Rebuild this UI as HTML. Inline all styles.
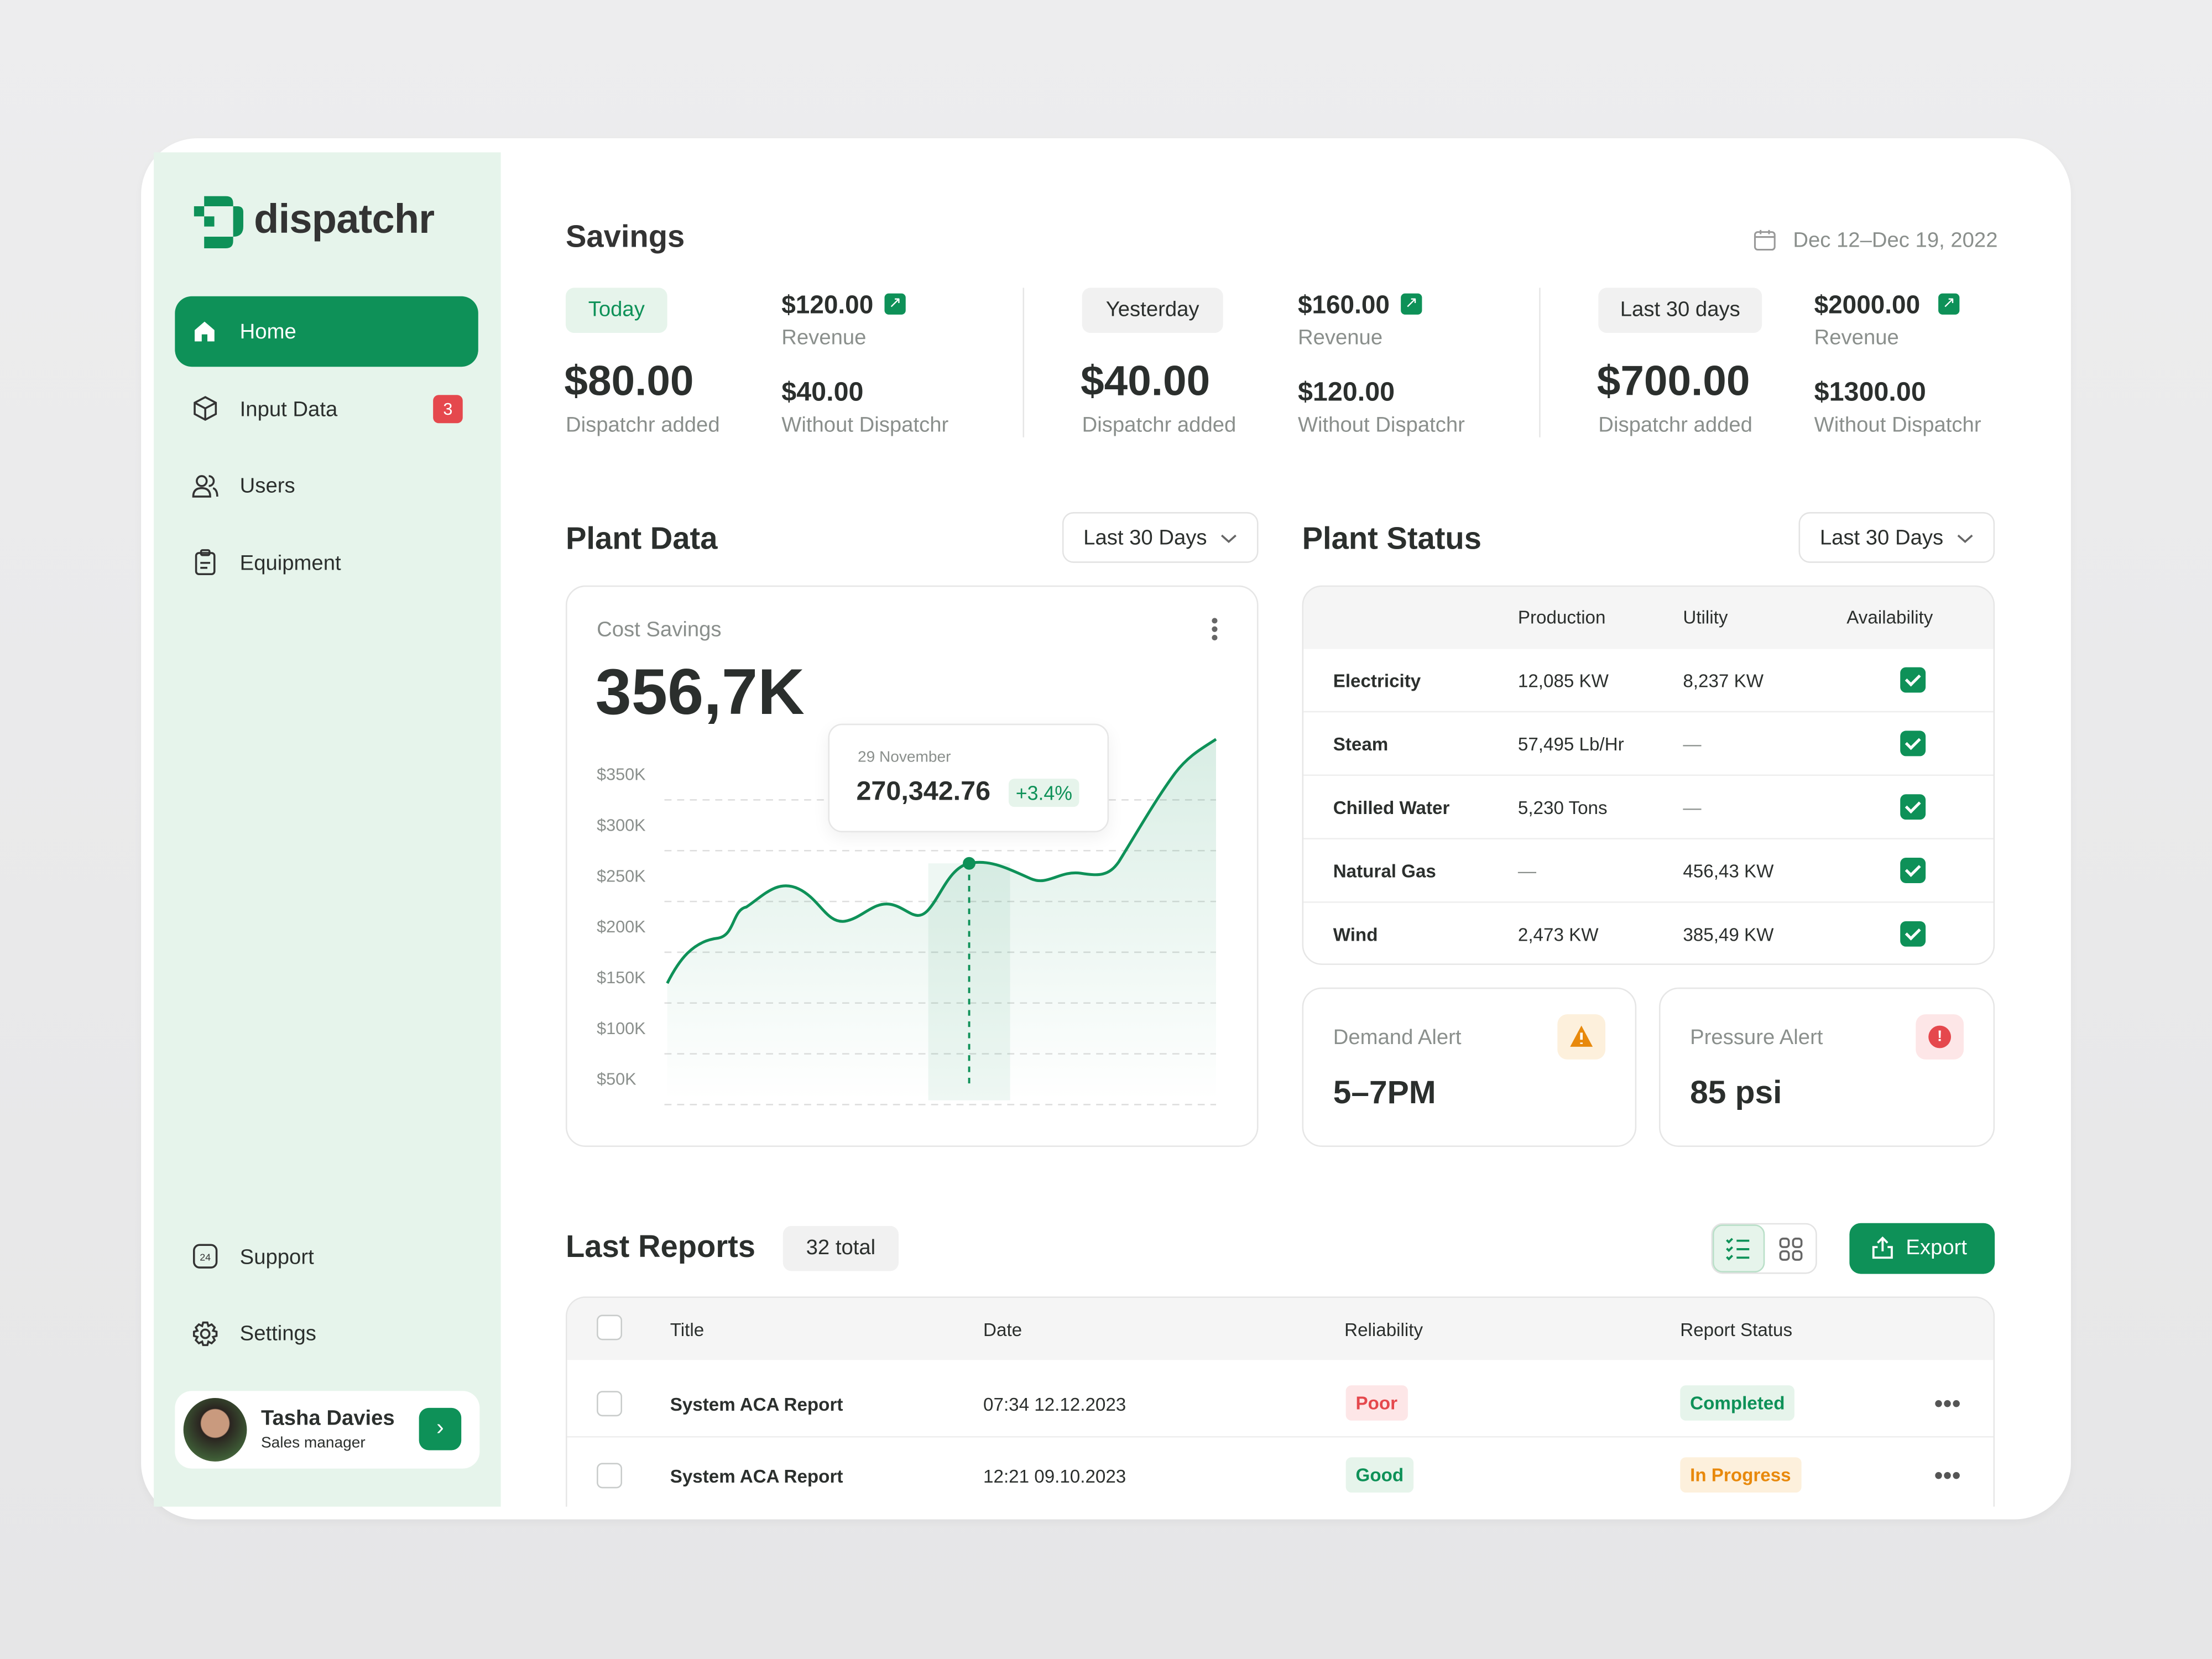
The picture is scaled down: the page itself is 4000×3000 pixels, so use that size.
<!DOCTYPE html>
<html><head><meta charset="utf-8"><style>
*{margin:0;padding:0;box-sizing:border-box}
html,body{width:4000px;height:3000px;overflow:hidden;background:#e9e9ea}
#w{position:absolute;left:0;top:0;width:1568px;height:1176px;transform:scale(2.55102);transform-origin:0 0;font-family:"Liberation Sans",sans-serif;color:#2b2f2d;background:linear-gradient(#ededee,#e6e6e7)}
.a{position:absolute;white-space:nowrap}
.g{color:#8a8f8c}
.card{position:absolute;left:100px;top:98px;width:1368px;height:979px;background:#fff;border-radius:40px;box-shadow:0 2px 6px rgba(0,0,0,.04)}
.side{position:absolute;left:109px;top:108px;width:246px;height:960px;background:#e6f4eb}
.nav{font-size:15px;color:#2b2f2d}
.pill{position:absolute;border-radius:6px;font-size:15px;text-align:center}
.box{position:absolute;border:1px solid #e6e6e6;border-radius:14px;background:#fff}
.sm{font-size:13px}
.chk{position:absolute;width:18px;height:18px;border-radius:4px;background:#0e9158}
.chk:after{content:"";position:absolute;left:6px;top:3px;width:4px;height:8px;border:solid #fff;border-width:0 2px 2px 0;transform:rotate(45deg)}
.cb{position:absolute;width:18px;height:18px;border:1.5px solid #c9cccb;border-radius:4px;background:#fff}
.dd{position:absolute;height:36px;border:1px solid #e3e3e3;border-radius:8px;font-size:15px;padding:9px 14px;white-space:nowrap}
.dd svg{position:absolute;right:14px;top:14px}
.tag{position:absolute;font-size:13px;font-weight:bold;padding:5px 7px;border-radius:4px}
</style></head><body><div id="w">
<div class="card"></div>
<div class="side"></div>
<svg class="a" style="left:137px;top:139px" width="36" height="37" viewBox="0 0 34 36">
<path d="M7 0H22Q27 0 27 5V7H30Q34 7 34 11V21Q34 28 27 28V31Q27 36 22 36H7V28H27V7H7Z" fill="#0e9158"/>
<rect x="0" y="7" width="7" height="7" fill="#0e9158"/><rect x="7" y="14" width="7" height="7" fill="#0e9158"/>
</svg>
<div class="a" style="left:180px;top:140px;font-size:29px;font-weight:bold;color:#333;letter-spacing:-0.3px">dispatchr</div>
<div class="a" style="left:124px;top:210px;width:215px;height:50px;border-radius:12px;background:#0e9158"></div>
<svg class="a" style="left:136px;top:226px" width="18" height="18" viewBox="0 0 18 18"><path d="M2 8L9 2L16 8V16H11V11H7V16H2Z" fill="#fff"/></svg>
<div class="a nav" style="left:170px;top:227px;color:#fff">Home</div>
<svg class="a" style="left:136px;top:280px" width="19" height="19" viewBox="0 0 19 19" fill="none" stroke="#333" stroke-width="1.4"><path d="M9.5 1.5L17 5.5V13.5L9.5 17.5L2 13.5V5.5Z M2 5.5L9.5 9.5L17 5.5 M9.5 9.5V17.5"/></svg>
<div class="a nav" style="left:170px;top:282px">Input Data</div>
<div class="a" style="left:307px;top:280px;width:21px;height:20px;border-radius:4px;background:#e5484d;color:#fff;font-size:12px;text-align:center;line-height:20px">3</div>
<svg class="a" style="left:136px;top:335px" width="19" height="19" viewBox="0 0 19 19" fill="none" stroke="#333" stroke-width="1.4"><circle cx="7" cy="6" r="3.5"/><path d="M1 17Q1 11 7 11Q13 11 13 17Z"/><path d="M12 2.5A3.5 3.5 0 0 1 12 9.5M15 11Q18 12 18 17"/></svg>
<div class="a nav" style="left:170px;top:336px">Users</div>
<svg class="a" style="left:136px;top:389px" width="19" height="19" viewBox="0 0 19 19" fill="none" stroke="#333" stroke-width="1.4"><rect x="3" y="3" width="13" height="15" rx="2"/><rect x="6.5" y="1" width="6" height="3.5" rx="1"/><path d="M6 10H13M6 13.5H11"/></svg>
<div class="a nav" style="left:170px;top:391px">Equipment</div>
<svg class="a" style="left:136px;top:881px" width="19" height="19" viewBox="0 0 19 19" fill="none" stroke="#333" stroke-width="1.4"><rect x="1.5" y="1.5" width="16" height="16" rx="4"/><text x="9.5" y="12.5" font-size="7" text-anchor="middle" fill="#333" stroke="none" font-family="Liberation Sans">24</text></svg>
<div class="a nav" style="left:170px;top:883px">Support</div>
<svg class="a" style="left:136px;top:936px" width="19" height="19" viewBox="0 0 19 19" fill="none" stroke="#333" stroke-width="1.4"><circle cx="9.5" cy="9.5" r="3"/><path d="M8 1.5H11L11.7 4L14 2.8L16.2 5L15 7.3L17.5 8V11L15 11.7L16.2 14L14 16.2L11.7 15L11 17.5H8L7.3 15L5 16.2L2.8 14L4 11.7L1.5 11V8L4 7.3L2.8 5L5 2.8L7.3 4Z"/></svg>
<div class="a nav" style="left:170px;top:937px">Settings</div>
<div class="a" style="left:124px;top:986px;width:216px;height:55px;border-radius:12px;background:#fff"></div>
<div class="a" style="left:130px;top:991px;width:45px;height:45px;border-radius:50%;background:radial-gradient(circle at 50% 40%,#c99a7e 0 28%,#2a2420 30%,#3d5a35 70%,#6f8c58)"></div>
<div class="a" style="left:185px;top:997px;font-size:15px;font-weight:bold">Tasha Davies</div>
<div class="a" style="left:185px;top:1017px;font-size:11px">Sales manager</div>
<div class="a" style="left:297px;top:998px;width:30px;height:30px;border-radius:7px;background:#0e9158;color:#fff;text-align:center;line-height:29px;font-size:16px">&#8250;</div>

<div class="a" style="left:401px;top:155px;font-size:22px;font-weight:bold;color:#333">Savings</div>
<svg class="a" style="left:1243px;top:162px" width="16" height="16" viewBox="0 0 16 16" fill="none" stroke="#999" stroke-width="1.2"><rect x="1" y="2.5" width="14" height="12.5" rx="2"/><path d="M1 6H15M5 1V4M11 1V4"/></svg>
<div class="a g" style="left:1271px;top:162px;font-size:15px">Dec 12–Dec 19, 2022</div>

<div class="pill" style="left:401px;top:204px;width:72px;height:32px;line-height:32px;background:#e6f4eb;color:#0e9158">Today</div>
<div class="pill" style="left:767px;top:204px;width:100px;height:32px;line-height:32px;background:#f1f1f1">Yesterday</div>
<div class="pill" style="left:1133px;top:204px;width:116px;height:32px;line-height:32px;background:#f1f1f1">Last 30 days</div>
<div class="a" style="left:725px;top:204px;width:1px;height:106px;background:#e6e6e6"></div>
<div class="a" style="left:1091px;top:204px;width:1px;height:106px;background:#e6e6e6"></div>

<div class="a" style="left:554px;top:206px;font-size:18px;font-weight:bold">$120.00</div>
<div class="a" style="left:920px;top:206px;font-size:18px;font-weight:bold">$160.00</div>
<div class="a" style="left:1286px;top:206px;font-size:18px;font-weight:bold">$2000.00</div>
<div class="a" style="left:627px;top:208px;width:15px;height:15px;border-radius:3px;background:#0e9158;color:#fff;font-size:11px;text-align:center;line-height:15px">&#8599;</div>
<div class="a" style="left:993px;top:208px;width:15px;height:15px;border-radius:3px;background:#0e9158;color:#fff;font-size:11px;text-align:center;line-height:15px">&#8599;</div>
<div class="a" style="left:1374px;top:208px;width:15px;height:15px;border-radius:3px;background:#0e9158;color:#fff;font-size:11px;text-align:center;line-height:15px">&#8599;</div>
<div class="a g" style="left:554px;top:231px;font-size:15px">Revenue</div>
<div class="a g" style="left:920px;top:231px;font-size:15px">Revenue</div>
<div class="a g" style="left:1286px;top:231px;font-size:15px">Revenue</div>
<div class="a" style="left:400px;top:254px;font-size:30px;font-weight:bold">$80.00</div>
<div class="a" style="left:766px;top:254px;font-size:30px;font-weight:bold">$40.00</div>
<div class="a" style="left:1132px;top:254px;font-size:30px;font-weight:bold">$700.00</div>
<div class="a" style="left:554px;top:268px;font-size:19px;font-weight:bold">$40.00</div>
<div class="a" style="left:920px;top:268px;font-size:19px;font-weight:bold">$120.00</div>
<div class="a" style="left:1286px;top:268px;font-size:19px;font-weight:bold">$1300.00</div>
<div class="a g" style="left:401px;top:293px;font-size:15px">Dispatchr added</div>
<div class="a g" style="left:767px;top:293px;font-size:15px">Dispatchr added</div>
<div class="a g" style="left:1133px;top:293px;font-size:15px">Dispatchr added</div>
<div class="a g" style="left:554px;top:293px;font-size:15px">Without Dispatchr</div>
<div class="a g" style="left:920px;top:293px;font-size:15px">Without Dispatchr</div>
<div class="a g" style="left:1286px;top:293px;font-size:15px">Without Dispatchr</div>

<div class="a" style="left:401px;top:369px;font-size:22px;font-weight:bold">Plant Data</div>
<div class="dd" style="left:753px;top:363px;width:139px">Last 30 Days<svg width="12" height="8" viewBox="0 0 12 8"><path d="M1 1.5L6 6L11 1.5" fill="none" stroke="#666" stroke-width="1.4"/></svg></div>
<div class="a" style="left:923px;top:369px;font-size:22px;font-weight:bold">Plant Status</div>
<div class="dd" style="left:1275px;top:363px;width:139px">Last 30 Days<svg width="12" height="8" viewBox="0 0 12 8"><path d="M1 1.5L6 6L11 1.5" fill="none" stroke="#666" stroke-width="1.4"/></svg></div>

<div class="box" style="left:401px;top:415px;width:491px;height:398px"></div>
<div class="a g" style="left:423px;top:438px;font-size:15px">Cost Savings</div>
<div class="a" style="left:859px;top:438px;width:4px;height:4px;border-radius:50%;background:#666;box-shadow:0 6px 0 #666,0 12px 0 #666"></div>
<div class="a" style="left:422px;top:463px;font-size:46px;font-weight:bold">356,7K</div>
<svg class="a" style="left:401px;top:415px" width="491" height="398">
<defs><linearGradient id="f" x1="0" y1="0" x2="0" y2="1"><stop offset="0" stop-color="#0e9158" stop-opacity=".16"/><stop offset="1" stop-color="#0e9158" stop-opacity="0"/></linearGradient></defs>
<g stroke="#dedede" stroke-dasharray="5 4" stroke-width="1">
<path d="M70 152H461M70 188H461M70 224H461M70 260H461M70 296H461M70 332H461M70 368H461"/></g>
<g font-size="12" fill="#8a8f8c" font-family="Liberation Sans">
<text x="22" y="138">$350K</text><text x="22" y="174">$300K</text><text x="22" y="210">$250K</text><text x="22" y="246">$200K</text><text x="22" y="282">$150K</text><text x="22" y="318">$100K</text><text x="22" y="354">$50K</text></g>
<path d="M72 282C80 266 90 252 108 250C120 248 118 230 128 228C140 220 150 208 165 215C180 222 185 240 198 238C210 236 218 224 230 226C242 228 248 240 257 230C266 220 272 200 286 197C300 194 312 200 330 208C342 213 350 202 365 204C378 206 385 206 392 196C405 175 418 152 432 133C442 120 452 115 461 109V365H72Z" fill="url(#f)"/>
<rect x="257" y="197" width="58" height="168" fill="#0e9158" opacity=".07"/>
<path d="M72 282C80 266 90 252 108 250C120 248 118 230 128 228C140 220 150 208 165 215C180 222 185 240 198 238C210 236 218 224 230 226C242 228 248 240 257 230C266 220 272 200 286 197C300 194 312 200 330 208C342 213 350 202 365 204C378 206 385 206 392 196C405 175 418 152 432 133C442 120 452 115 461 109" fill="none" stroke="#0e9158" stroke-width="2"/>
<path d="M286 197V355" stroke="#0e9158" stroke-width="1.5" stroke-dasharray="4 4"/>
<circle cx="286" cy="197" r="4.5" fill="#0e9158"/>
</svg>
<div class="a" style="left:587px;top:513px;width:199px;height:77px;background:#fff;border:1px solid #e6e6e6;border-radius:10px;box-shadow:0 4px 12px rgba(0,0,0,.06)"></div>
<div class="a g" style="left:608px;top:531px;font-size:11px">29 November</div>
<div class="a" style="left:607px;top:551px;font-size:19px;font-weight:bold">270,342.76</div>
<div class="a" style="left:715px;top:552px;font-size:14px;color:#0e9158;background:#e6f4eb;padding:2px 5px;border-radius:4px">+3.4%</div>

<div class="box" style="left:923px;top:415px;width:491px;height:269px;overflow:hidden"><div style="height:44px;background:#f5f5f5"></div></div>
<div class="a sm" style="left:1076px;top:430px">Production</div>
<div class="a sm" style="left:1193px;top:430px">Utility</div>
<div class="a sm" style="left:1309px;top:430px">Availability</div>
<div class="a" style="left:924px;top:504px;width:489px;height:1px;background:#eee;box-shadow:0 45px 0 #eee,0 90px 0 #eee,0 135px 0 #eee"></div>
<div class="a sm" style="left:945px;top:475px;font-weight:bold">Electricity</div>
<div class="a sm" style="left:945px;top:520px;font-weight:bold">Steam</div>
<div class="a sm" style="left:945px;top:565px;font-weight:bold">Chilled Water</div>
<div class="a sm" style="left:945px;top:610px;font-weight:bold">Natural Gas</div>
<div class="a sm" style="left:945px;top:655px;font-weight:bold">Wind</div>
<div class="a sm" style="left:1076px;top:475px">12,085 KW</div>
<div class="a sm" style="left:1076px;top:520px">57,495 Lb/Hr</div>
<div class="a sm" style="left:1076px;top:565px">5,230 Tons</div>
<div class="a sm g" style="left:1076px;top:610px">—</div>
<div class="a sm" style="left:1076px;top:655px">2,473 KW</div>
<div class="a sm" style="left:1193px;top:475px">8,237 KW</div>
<div class="a sm g" style="left:1193px;top:520px">—</div>
<div class="a sm g" style="left:1193px;top:565px">—</div>
<div class="a sm" style="left:1193px;top:610px">456,43 KW</div>
<div class="a sm" style="left:1193px;top:655px">385,49 KW</div>
<div class="chk" style="left:1347px;top:473px"></div>
<div class="chk" style="left:1347px;top:518px"></div>
<div class="chk" style="left:1347px;top:563px"></div>
<div class="chk" style="left:1347px;top:608px"></div>
<div class="chk" style="left:1347px;top:653px"></div>

<div class="box" style="left:923px;top:700px;width:237px;height:113px"></div>
<div class="box" style="left:1176px;top:700px;width:238px;height:113px"></div>
<div class="a g" style="left:945px;top:727px;font-size:15px">Demand Alert</div>
<div class="a g" style="left:1198px;top:727px;font-size:15px">Pressure Alert</div>
<div class="a" style="left:945px;top:761px;font-size:23px;font-weight:bold">5–7PM</div>
<div class="a" style="left:1198px;top:761px;font-size:23px;font-weight:bold">85 psi</div>
<div class="a" style="left:1104px;top:719px;width:34px;height:32px;border-radius:7px;background:#fdf0dc"></div>
<svg class="a" style="left:1112px;top:726px" width="18" height="17" viewBox="0 0 18 17"><path d="M9 1L17 16H1Z" fill="#e8890c"/><path d="M9 6V11M9 13V14" stroke="#fff" stroke-width="1.8"/></svg>
<div class="a" style="left:1358px;top:719px;width:34px;height:32px;border-radius:7px;background:#fde6e7"></div>
<div class="a" style="left:1367px;top:727px;width:16px;height:16px;border-radius:50%;background:#e5484d;color:#fff;font-size:11px;font-weight:bold;text-align:center;line-height:16px">!</div>

<div class="a" style="left:401px;top:871px;font-size:22px;font-weight:bold">Last Reports</div>
<div class="pill" style="left:555px;top:869px;width:82px;height:32px;line-height:32px;background:#f1f1f1">32 total</div>
<div class="a" style="left:1213px;top:867px;width:75px;height:36px;border:1px solid #e3e3e3;border-radius:8px"></div>
<div class="a" style="left:1214px;top:868px;width:37px;height:34px;border-radius:7px;background:#e6f4eb;border:1px solid #b9dfc8"></div>
<svg class="a" style="left:1223px;top:876px" width="18" height="18" viewBox="0 0 18 18" fill="none" stroke="#0e9158" stroke-width="1.5"><path d="M1 3L2.5 4.5L5 2M1 9L2.5 10.5L5 8M1 15L2.5 16.5L5 14M8 3.5H17M8 9.5H17M8 15.5H17"/></svg>
<svg class="a" style="left:1261px;top:877px" width="17" height="17" viewBox="0 0 17 17" fill="none" stroke="#666" stroke-width="1.4"><rect x="1" y="1" width="6" height="6" rx="2"/><rect x="10" y="1" width="6" height="6" rx="2"/><rect x="1" y="10" width="6" height="6" rx="2"/><rect x="10" y="10" width="6" height="6" rx="2"/></svg>
<div class="a" style="left:1311px;top:867px;width:103px;height:36px;border-radius:8px;background:#0e9158;color:#fff;font-size:15px;line-height:36px;padding-left:40px">Export</div>
<svg class="a" style="left:1326px;top:876px" width="17" height="17" viewBox="0 0 17 17" fill="none" stroke="#fff" stroke-width="1.5"><path d="M8.5 11V1.5M5 5L8.5 1.5L12 5M5 8H2V15.5H15V8H12"/></svg>

<div class="a" style="left:401px;top:919px;width:1013px;height:149px;border:1px solid #e6e6e6;border-bottom:none;border-radius:14px 14px 0 0;overflow:hidden"><div style="height:44px;background:#f5f5f5"></div><div style="height:55px;border-bottom:1px solid #eee"></div></div>
<div class="cb" style="left:423px;top:932px"></div>
<div class="cb" style="left:423px;top:986px"></div>
<div class="cb" style="left:423px;top:1037px"></div>
<div class="a sm" style="left:475px;top:935px">Title</div>
<div class="a sm" style="left:697px;top:935px">Date</div>
<div class="a sm" style="left:953px;top:935px">Reliability</div>
<div class="a sm" style="left:1191px;top:935px">Report Status</div>
<div class="a sm" style="left:475px;top:988px;font-weight:bold">System ACA Report</div>
<div class="a sm" style="left:475px;top:1039px;font-weight:bold">System ACA Report</div>
<div class="a sm" style="left:697px;top:988px">07:34 12.12.2023</div>
<div class="a sm" style="left:697px;top:1039px">12:21 09.10.2023</div>
<div class="tag" style="left:954px;top:982px;background:#fde6e7;color:#e5484d">Poor</div>
<div class="tag" style="left:954px;top:1033px;background:#e6f4eb;color:#0e9158">Good</div>
<div class="tag" style="left:1191px;top:982px;background:#e6f4eb;color:#0e9158">Completed</div>
<div class="tag" style="left:1191px;top:1033px;background:#fdf0dc;color:#e8890c">In Progress</div>
<div class="a" style="left:1371px;top:993px;font-size:18px;color:#555;line-height:4px">•••</div>
<div class="a" style="left:1371px;top:1044px;font-size:18px;color:#555;line-height:4px">•••</div>
</div></body></html>
